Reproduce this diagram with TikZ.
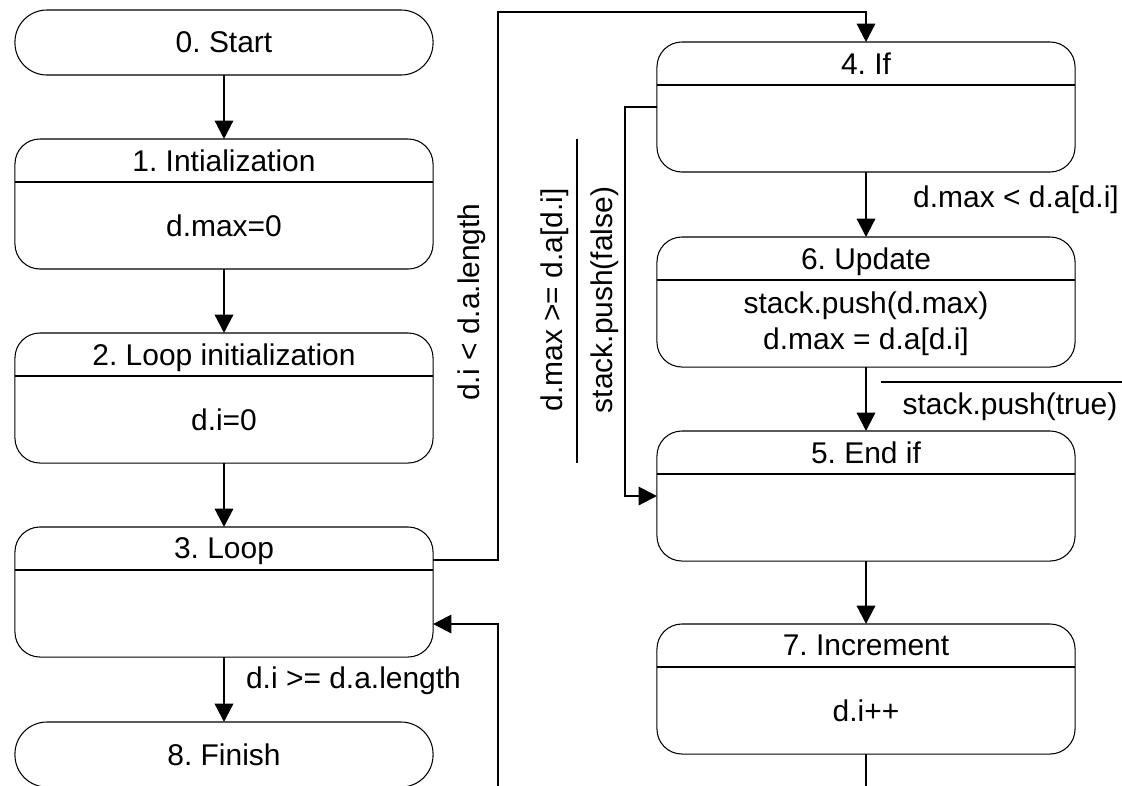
\documentclass[tikz,border=0pt]{standalone}
\usepackage{fontspec}
\setmainfont{Liberation Sans}
\usepackage{tikz}
\usetikzlibrary{arrows.meta}
\usetikzlibrary{calc}
\usetikzlibrary{positioning}
\frenchspacing
\newcommand\linewd{1.6pt}
\newcommand\borderwd{.75pt}
\tikzset{>={Triangle[length=13pt,width=13pt]}}
\tikzstyle{flow}     = [line width=\linewd, ->]
\tikzstyle{guardbar} = [line width=\linewd]
\tikzstyle{divider}  = [line width=\borderwd]
\tikzstyle{state}    = 
 [draw, line width=\borderwd, rounded corners=.625cm, minimum width=10.45cm, minimum height=3.25cm]
\tikzstyle{terminal} = 
 [draw, line width=\borderwd, rounded corners=.8cm, minimum width=10.45cm, minimum height=1.625cm]
\tikzstyle{head}     = [text depth=0pt]
\newcommand\statenode[5]{%
  \draw (#2,#3) node[state] (#1) {};
  \draw[divider] ($(#1.north west)+(0,43)$) -- ($(#1.north east)+(0,43)$);
  \draw ($(#1.north)+(0,21.5)$) node[head] (#1title) {#4};
  \draw ($(#1.center)+(0,21.5)$) node[align=center] (#1body) {#5};
}

\begin{document}
\begin{tikzpicture}[x=0.025cm, y=-0.025cm]
  \tikzstyle{every node}=[inner sep=0pt, outer sep=0pt, font=\fontsize{21.3}{25.6}\selectfont\frenchspacing]
  \useasboundingbox (0,0) rectangle (1122,785);
  \clip (0,0) rectangle (1122,785);
  \draw (224,42.5) node[terminal] (start) {0. Start};
  \statenode{init}{224}{204}{1. Intialization}{d.max=0}
  \statenode{loopinit}{224}{398}{2. Loop initialization}{d.i=0}
  \statenode{loop}{224}{592}{3. Loop}{}
  \draw (224,754.5) node[terminal] (finish) {8. Finish};
  \statenode{if}{866}{107}{4. If}{}
  \statenode{update}{866}{302}{6. Update}{stack.push(d.max)\\d.max = d.a[d.i]}
  \statenode{endif}{866}{496}{5. End if}{}
  \statenode{incr}{866}{689}{7. Increment}{d.i++}
  \coordinate (loopbus) at (498,12);
  \coordinate (backbus) at (498,810);
  \draw[flow] (start) -- (init);
  \draw[flow] (init) -- (loopinit);
  \draw[flow] (loopinit) -- (loop);
  \draw[flow] (loop) -- (finish);
  \draw (353.5,681) node (donelbl) {d.i >= d.a.length};
  \draw[flow] ($(loop.east)+(0,-32)$) -| (loopbus) -| (if.north);
  \draw (472,302) node[rotate=90] (looplbl) {d.i < d.a.length};
  \draw[flow] (if) -- (update);
  \draw (1016,200) node (truelbl) {d.max < d.a[d.i]};
  \draw[flow] (update) -- (endif);
  \draw[guardbar] (881,382) -- (1122,382);
  \draw (1010,407) node (trueact) {stack.push(true)};
  \draw[flow] (if.west) -- ++(-32,0) |- (endif.west);
  \draw (555,300) node[rotate=90] (falselbl) {d.max >= d.a[d.i]};
  \draw[guardbar] (577,139) -- (577,463);
  \draw (605,300) node[rotate=90] (falseact) {stack.push(false)};
  \draw[flow] (endif) -- (incr);
  \draw[flow] (incr) |- (backbus) |- ($(loop.east)+(0,32)$);
\end{tikzpicture}
\end{document}
